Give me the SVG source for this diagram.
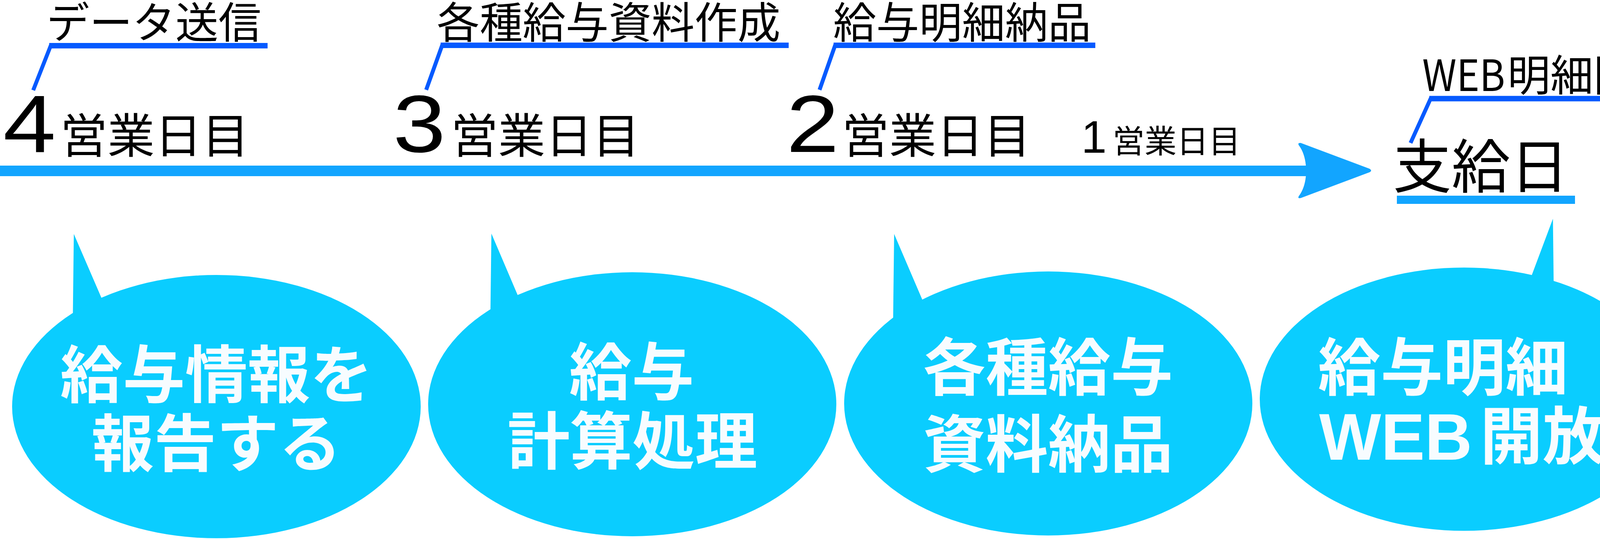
<svg xmlns="http://www.w3.org/2000/svg" width="4308" height="1380" viewBox="0 0 4308 1380">
<defs>
<style>
.jp{font-family:"Noto Sans CJK JP","Noto Sans CJK SC",sans-serif;fill:#000}
.num{font-family:"Liberation Sans",Arial,sans-serif;fill:#000}
.bub{fill:#0ACDFF}
.bt{font-family:"Noto Sans CJK JP","Noto Sans CJK SC",sans-serif;font-weight:bold;font-size:160px;fill:#F7FCFF}
.bnum{font-family:"Liberation Sans",Arial,sans-serif;font-weight:bold}
.lead{stroke:#055AFF;fill:none}
.leadh{stroke-width:14}
.leads{stroke-width:10}
.bar{fill:#12A5FF}
</style>
</defs>
<rect width="4308" height="1380" fill="#FFFFFF"/>

<g id="connectors">
<path class="bar" d="M0,424 L3343,424 Q3340,392 3325,372 Q3321,365 3330,366 L3506,432 Q3514,437 3506,441 L3330,507 Q3321,509 3325,502 Q3340,482 3343,451 L0,451 Z"/>
<line class="lead leadh" x1="126" y1="117" x2="685" y2="117"/>
<line class="lead leads" x1="131" y1="114" x2="85" y2="231"/>
<line class="lead leadh" x1="1128" y1="116" x2="2019" y2="116"/>
<line class="lead leads" x1="1133" y1="113" x2="1091" y2="230"/>
<line class="lead leadh" x1="2134" y1="116" x2="2804" y2="116"/>
<line class="lead leads" x1="2139" y1="113" x2="2098" y2="230"/>
<line class="lead leadh" x1="3659" y1="252.5" x2="4308" y2="252.5"/>
<line class="lead leads" x1="3664" y1="249" x2="3611" y2="366"/>
</g>

<g id="day4">
<text class="jp" x="119" y="98" font-size="110">データ送信</text>
<text y="389"><tspan class="num" x="8" font-size="208" textLength="135" lengthAdjust="spacingAndGlyphs">4</tspan><tspan class="jp" x="154" y="391" font-size="121">営業日目</tspan></text>
</g>

<g id="day3">
<text class="jp" x="1118" y="98" font-size="110">各種給与資料作成</text>
<text y="389"><tspan class="num" x="1006" font-size="208" textLength="135" lengthAdjust="spacingAndGlyphs">3</tspan><tspan class="jp" x="1154" y="391" font-size="121">営業日目</tspan></text>
</g>

<g id="day2">
<text class="jp" x="2133" y="98" font-size="110">給与明細納品</text>
<text y="389"><tspan class="num" x="2013" font-size="208" textLength="135" lengthAdjust="spacingAndGlyphs">2</tspan><tspan class="jp" x="2155" y="391" font-size="121">営業日目</tspan></text>
</g>

<g id="day1">
<text y="391"><tspan class="num" x="2768" font-size="117">1</tspan><tspan class="jp" x="2848" font-size="82">営業日目</tspan></text>
</g>

<g id="payday">
<text class="jp" x="3566" y="481" font-size="150">支給日</text>
<rect class="bar" x="3576" y="501" width="456" height="21"/>
<text y="233"><tspan class="jp" x="3641" font-size="110" textLength="212" lengthAdjust="spacingAndGlyphs">WEB</tspan><tspan class="jp" x="3859" font-size="110">明細開放</tspan></text>
</g>

<g id="bubble1">
<polygon class="bub" points="189,599 262,768 300,850 186,850"/>
<ellipse class="bub" cx="554" cy="1041" rx="523" ry="337"/>
<text class="bt" text-anchor="middle"><tspan x="554" y="1018">給与情報を</tspan><tspan x="554" y="1194">報告する</tspan></text>
</g>

<g id="bubble2">
<polygon class="bub" points="1258,598 1325,755 1360,840 1255,840"/>
<ellipse class="bub" cx="1618.5" cy="1035" rx="522.5" ry="338"/>
<text class="bt" text-anchor="middle"><tspan x="1617" y="1011">給与</tspan><tspan x="1619" y="1188">計算処理</tspan></text>
</g>

<g id="bubble3">
<polygon class="bub" points="2289,599 2361,767 2395,850 2286,850"/>
<ellipse class="bub" cx="2683.5" cy="1033" rx="522.5" ry="338"/>
<text class="bt" text-anchor="middle"><tspan x="2683" y="999">各種給与</tspan><tspan x="2683" y="1196">資料納品</tspan></text>
</g>

<g id="bubble4">
<polygon class="bub" points="3975.5,560 3978,780 3893,780"/>
<ellipse class="bub" cx="3748" cy="1022" rx="523" ry="337"/>
<text class="bt"><tspan x="3374" y="999">給与明細</tspan><tspan class="bnum" x="3377" y="1177" font-size="168">WEB</tspan><tspan x="3789" y="1175">開放</tspan></text>
</g>
</svg>
